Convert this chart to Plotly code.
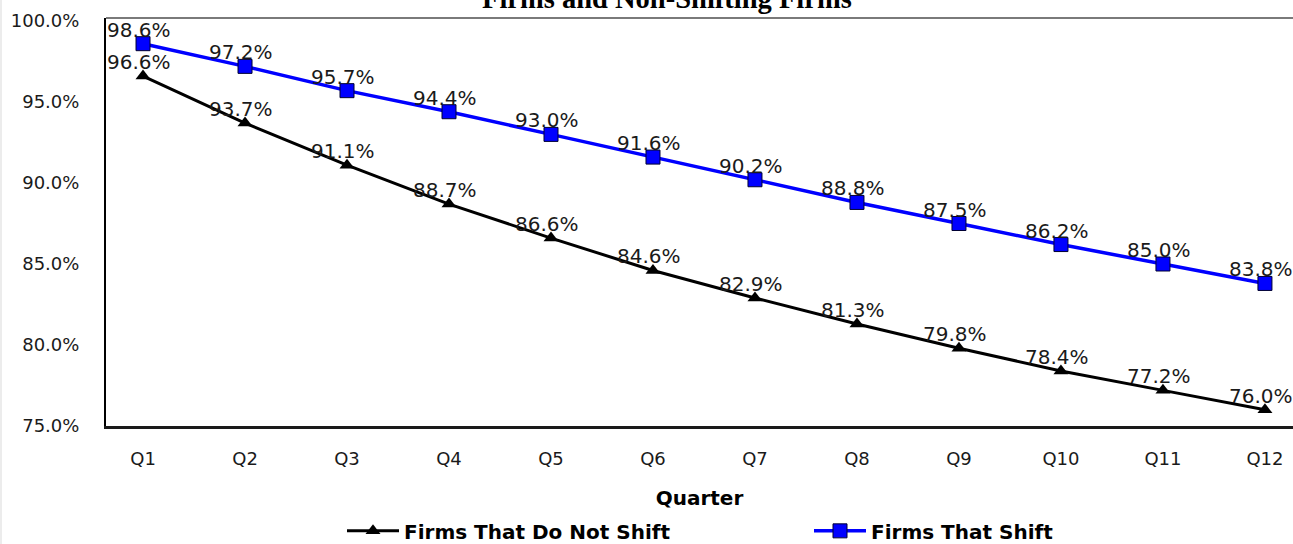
import plotly.graph_objects as go

quarters = ["Q1", "Q2", "Q3", "Q4", "Q5", "Q6", "Q7", "Q8", "Q9", "Q10", "Q11", "Q12"]
no_shift = [96.6, 93.7, 91.1, 88.7, 86.6, 84.6, 82.9, 81.3, 79.8, 78.4, 77.2, 76.0]
shift = [98.6, 97.2, 95.7, 94.4, 93.0, 91.6, 90.2, 88.8, 87.5, 86.2, 85.0, 83.8]
y_ticks = [75, 80, 85, 90, 95, 100]
y_tick_text = [f"{v:.1f}%" for v in y_ticks]

FONT = "DejaVu Sans"
W, H = 1293, 544
ML, MT, MB = 106, 18, 118
PLOT_W = W - ML

fig = go.Figure()
fig.add_trace(go.Scatter(
    x=quarters, y=no_shift, name="Firms That Do Not Shift",
    mode="lines+markers",
    line=dict(color="#000000", width=3),
    marker=dict(symbol="triangle-up", size=13, color="#000000"),
))
fig.add_trace(go.Scatter(
    x=quarters, y=shift, name="Firms That Shift",
    mode="lines+markers",
    line=dict(color="#0000ff", width=3.5),
    marker=dict(symbol="square", size=14, color="#0000ff",
                line=dict(color="#000033", width=1)),
))

# value labels sitting just above each point
for series in (no_shift, shift):
    for q, v in zip(quarters, series):
        fig.add_annotation(
            x=q, y=v, text=f"{v:.1f}%", showarrow=False,
            xanchor="center", yanchor="bottom", xshift=-4, yshift=0,
            font=dict(family=FONT, size=20, color="#1a1a1a"),
        )

# title line
fig.add_annotation(
    xref="paper", yref="paper", x=(667 - ML) / PLOT_W, y=1,
    xanchor="center", yanchor="bottom", yshift=2, showarrow=False,
    text="<b>Firms and Non-Shifting Firms</b>",
    font=dict(family="Liberation Serif", size=28.5, color="#000000"),
)

# grey upper frame line
fig.add_shape(type="line", xref="paper", yref="paper", x0=0, x1=1, y0=1, y1=1,
              line=dict(color="#7a7a7a", width=2))
# faint page edge on the left
fig.add_shape(type="line", xref="paper", yref="paper",
              x0=-(ML - 1) / PLOT_W, x1=-(ML - 1) / PLOT_W,
              y0=-MB / (H - MT - MB), y1=1 + MT / (H - MT - MB),
              line=dict(color="#ececec", width=2))

fig.update_layout(
    width=W, height=H,
    margin=dict(l=ML, r=0, t=MT, b=MB, autoexpand=False),
    paper_bgcolor="#ffffff", plot_bgcolor="#ffffff",
    showlegend=True,
    legend=dict(
        orientation="h", x=(342 - ML) / PLOT_W, xanchor="left",
        y=-0.257, yanchor="middle",
        font=dict(family=FONT, size=20, color="#000000", weight="bold"),
        entrywidth=400, entrywidthmode="pixels", itemwidth=52,
        bgcolor="rgba(0,0,0,0)",
    ),
    xaxis=dict(
        type="category", range=[-0.363, 11.275],
        showline=True, linecolor="#1a1a1a", linewidth=3,
        showgrid=False, ticks="", zeroline=False,
        tickfont=dict(family=FONT, size=18, color="#1a1a1a"),
        ticklabelstandoff=14,
        title=dict(text="<b>Quarter</b>", standoff=24,
                   font=dict(family=FONT, size=20, color="#000000")),
    ),
    yaxis=dict(
        range=[75, 100.185], tickvals=y_ticks, ticktext=y_tick_text,
        showline=True, linecolor="#000000", linewidth=2,
        showgrid=False, ticks="", zeroline=False,
        tickfont=dict(family=FONT, size=18, color="#1a1a1a"),
        ticklabelstandoff=21,
    ),
)

fig.write_html("out.html")
